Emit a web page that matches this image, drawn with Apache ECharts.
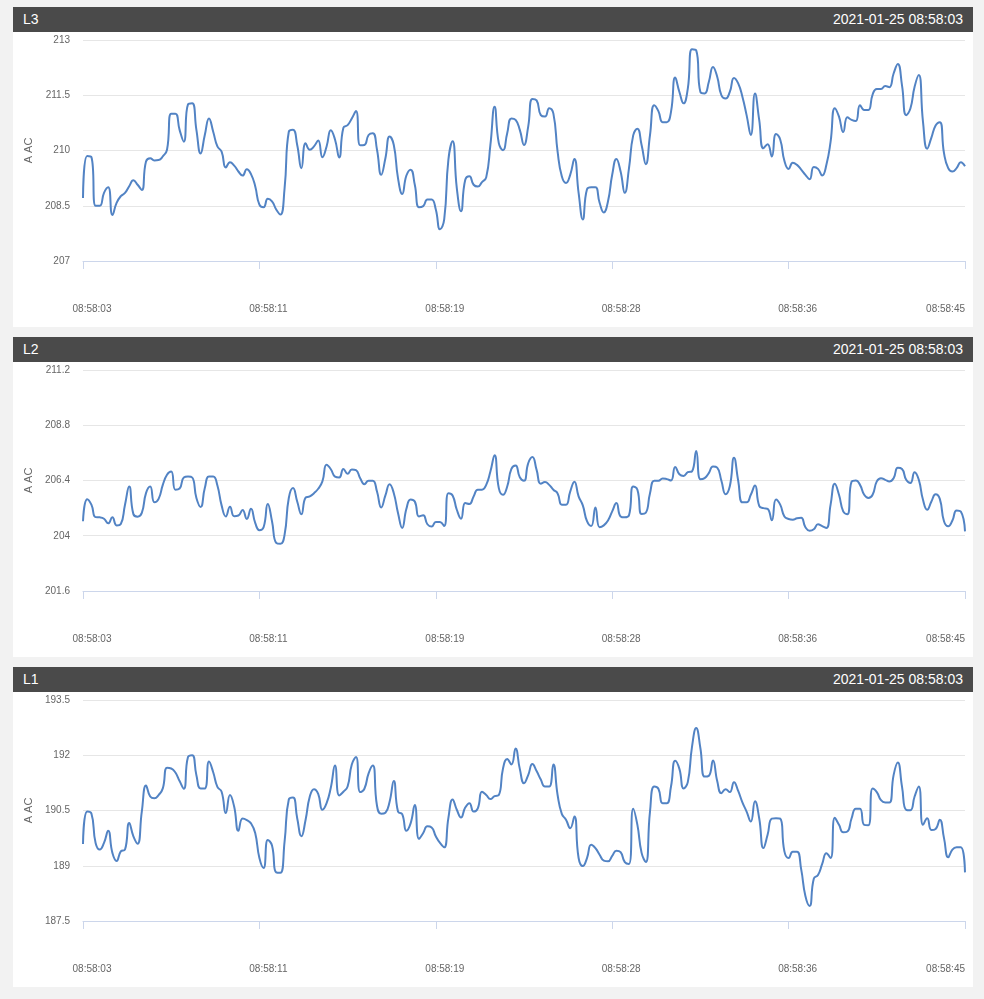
<!DOCTYPE html>
<html>
<head>
<meta charset="utf-8">
<title>L1 L2 L3</title>
<script src="https://cdn.jsdelivr.net/npm/echarts@6/dist/echarts.min.js"></script>
<style>
  body { margin: 0; background: #f2f2f2; font-family: "Liberation Sans", Arial, sans-serif; }
  .panel { position: absolute; left: 13px; width: 960px; }
  .head { height: 25px; line-height: 25px; background: #4a4a4a; color: #fff; font-size: 14px; padding: 0 10px; }
  .head .time { float: right; }
  .chart { width: 960px; height: 295px; background: #fff; }
</style>
</head>
<body>
<div class="panel" style="top:7px">
  <div class="head">L3<span class="time">2021-01-25 08:58:03</span></div>
  <div class="chart" id="chartL3"></div>
</div>
<div class="panel" style="top:337px">
  <div class="head">L2<span class="time">2021-01-25 08:58:03</span></div>
  <div class="chart" id="chartL2"></div>
</div>
<div class="panel" style="top:667px">
  <div class="head">L1<span class="time">2021-01-25 08:58:03</span></div>
  <div class="chart" id="chartL1"></div>
</div>
<script>
// sample times: one point every 200 ms starting at 08:58:03
const startTime = '08:58:03';
const stepMs = 200;
const labelEvery = 42; // one x label every 42 samples

const l3Values = [
  208.71, 209.85, 209.82, 208.50, 208.50, 208.85, 209.00, 208.25, 208.58, 208.76,
  208.85, 209.03, 209.19, 209.07, 208.93, 209.70, 209.79, 209.73, 209.74, 209.84,
  210.02, 211.00, 211.00, 210.56, 210.24, 211.25, 211.28, 210.56, 209.92, 210.42,
  210.87, 210.51, 210.11, 209.97, 209.54, 209.68, 209.59, 209.43, 209.32, 209.49,
  209.36, 209.03, 208.53, 208.46, 208.69, 208.62, 208.40, 208.26, 208.98, 210.51,
  210.56, 210.15, 209.52, 210.20, 210.02, 210.11, 210.27, 209.82, 210.11, 210.55,
  210.30, 209.81, 210.62, 210.69, 210.87, 211.07, 210.14, 210.15, 210.42, 210.47,
  210.02, 209.34, 209.79, 210.38, 210.15, 209.25, 208.82, 209.32, 209.48, 209.07,
  208.46, 208.49, 208.67, 208.67, 208.40, 207.86, 208.13, 209.75, 210.25, 208.98,
  208.35, 209.20, 209.30, 209.07, 209.02, 209.14, 209.27, 210.15, 211.19, 210.20,
  210.01, 210.47, 210.87, 210.83, 210.56, 210.15, 210.65, 211.40, 211.36, 210.96,
  210.92, 211.15, 211.00, 209.97, 209.30, 209.12, 209.34, 209.77, 208.85, 208.13,
  208.95, 209.00, 209.00, 208.58, 208.32, 208.62, 209.34, 209.77, 209.43, 208.85,
  209.52, 210.41, 210.59, 210.15, 209.63, 210.42, 211.23, 211.07, 210.77, 210.77,
  211.05, 211.98, 211.59, 211.28, 211.68, 212.75, 212.72, 211.59, 211.55, 211.86,
  212.27, 212.00, 211.50, 211.41, 211.59, 211.97, 211.82, 211.46, 210.96, 210.42,
  211.55, 210.83, 210.06, 210.17, 209.84, 210.45, 210.30, 209.72, 209.50, 209.67,
  209.61, 209.48, 209.34, 209.22, 209.55, 209.50, 209.32, 209.61, 210.24, 211.15,
  210.92, 210.50, 210.90, 210.83, 210.80, 211.23, 211.10, 211.10, 211.52, 211.67,
  211.67, 211.75, 211.72, 212.09, 212.35, 211.77, 210.96, 211.14, 211.73, 212.05,
  210.78, 210.05, 210.35, 210.68, 210.77, 209.93, 209.52, 209.43, 209.52, 209.68,
  209.57
];

const l2Values = [
  204.63, 205.59, 205.35, 204.81, 204.80, 204.74, 204.54, 204.80, 204.45, 204.51,
  205.35, 206.14, 204.94, 204.83, 204.99, 205.85, 206.14, 205.45, 205.60, 206.21,
  206.65, 206.79, 206.00, 206.05, 206.53, 206.57, 206.53, 205.64, 205.25, 206.07,
  206.57, 206.57, 206.18, 205.32, 204.84, 205.26, 204.85, 204.88, 205.12, 204.73,
  205.17, 204.56, 204.24, 204.37, 205.38, 204.63, 203.69, 203.65, 204.05, 205.64,
  206.07, 205.49, 204.93, 205.66, 205.71, 205.85, 206.04, 206.36, 207.08, 206.89,
  206.57, 206.53, 206.90, 206.69, 206.88, 206.85, 206.50, 206.24, 206.39, 206.39,
  205.92, 205.23, 205.75, 206.24, 205.85, 204.99, 204.34, 205.17, 205.58, 205.49,
  204.84, 204.89, 204.50, 204.40, 204.60, 204.60, 204.42, 205.85, 205.75, 205.13,
  204.74, 205.42, 205.38, 205.71, 206.00, 206.00, 206.21, 206.79, 207.50, 206.07,
  205.78, 206.14, 206.90, 207.05, 206.54, 206.39, 207.15, 207.42, 206.86, 206.26,
  206.33, 206.21, 206.00, 205.84, 205.35, 205.35, 205.92, 206.35, 205.71, 205.32,
  204.63, 204.42, 205.23, 204.37, 204.45, 204.66, 205.06, 205.42, 204.84, 204.80,
  204.89, 206.14, 206.00, 204.95, 205.00, 205.85, 206.39, 206.39, 206.49, 206.46,
  206.40, 206.99, 206.67, 206.60, 206.76, 206.80, 207.68, 206.45, 206.50, 206.72,
  207.01, 206.96, 206.39, 205.80, 206.15, 207.39, 206.39, 205.45, 205.45, 205.78,
  206.18, 205.30, 205.20, 205.17, 204.67, 205.57, 205.35, 204.84, 204.73, 204.70,
  204.76, 204.78, 204.37, 204.22, 204.28, 204.50, 204.42, 204.34, 205.35, 206.26,
  205.78, 205.06, 204.93, 206.35, 206.40, 206.21, 205.78, 205.64, 205.78, 206.36,
  206.50, 206.43, 206.36, 206.50, 206.95, 206.90, 206.43, 206.29, 206.76, 206.43,
  205.56, 205.13, 205.49, 205.80, 205.60, 204.63, 204.41, 204.66, 205.10, 205.05,
  204.19
];

const l1Values = [
  189.59, 190.47, 190.42, 189.62, 189.44, 189.62, 189.95, 189.35, 189.13, 189.39,
  189.44, 190.16, 189.80, 189.60, 190.47, 191.18, 190.88, 190.83, 190.92, 191.10,
  191.66, 191.64, 191.53, 191.30, 191.09, 191.95, 192.00, 191.46, 191.10, 191.10,
  191.83, 191.54, 191.14, 191.01, 190.43, 190.92, 190.60, 189.95, 190.28, 190.24,
  190.15, 189.89, 189.21, 188.94, 189.70, 189.55, 188.82, 188.81, 189.66, 190.80,
  190.85, 190.29, 189.80, 190.25, 190.88, 191.08, 190.95, 190.52, 190.70, 191.12,
  191.72, 190.91, 191.01, 191.15, 191.75, 191.95, 191.00, 191.09, 191.51, 191.72,
  190.63, 190.41, 190.44, 190.74, 191.30, 190.47, 190.40, 189.95, 190.15, 190.65,
  189.73, 189.89, 190.07, 190.04, 189.80, 189.62, 189.50, 190.30, 190.80, 190.52,
  190.31, 190.58, 190.70, 190.47, 190.56, 191.01, 190.92, 190.81, 190.89, 190.92,
  191.64, 191.90, 191.75, 192.18, 191.63, 191.24, 191.46, 191.76, 191.57, 191.34,
  191.15, 191.15, 191.75, 190.92, 190.41, 190.25, 190.02, 190.34, 189.21, 188.99,
  189.21, 189.57, 189.48, 189.30, 189.14, 189.12, 189.27, 189.41, 189.37, 189.10,
  189.05, 190.55, 190.11, 189.35, 189.10, 190.47, 191.15, 191.09, 190.70, 190.70,
  191.15, 191.85, 191.63, 191.10, 191.27, 192.23, 192.74, 192.19, 191.42, 191.44,
  191.86, 191.30, 190.97, 191.08, 191.00, 191.27, 191.03, 190.72, 190.47, 190.20,
  190.75, 190.29, 189.48, 189.84, 190.28, 190.29, 190.28, 189.39, 189.21, 189.38,
  189.38, 188.90, 188.18, 187.91, 188.65, 188.75, 189.05, 189.34, 189.21, 190.30,
  190.11, 189.91, 189.93, 190.29, 190.55, 190.55, 190.11, 190.10, 191.10, 191.00,
  190.78, 190.72, 190.72, 191.46, 191.80, 191.15, 190.52, 190.51, 190.88, 191.15,
  190.11, 190.29, 189.97, 190.00, 190.25, 189.75, 189.23, 189.44, 189.50, 189.50,
  188.82
];

function pad(n) {
  return n < 10 ? '0' + n : '' + n;
}

// x categories: HH:MM:SS of every sample
function buildTimes(count) {
  const parts = startTime.split(':').map(Number);
  const baseMs = (parts[0] * 3600 + parts[1] * 60 + parts[2]) * 1000;
  const out = [];
  for (let i = 0; i < count; i++) {
    const sec = Math.floor((baseMs + i * stepMs) / 1000);
    out.push(pad(Math.floor(sec / 3600)) + ':' + pad(Math.floor(sec / 60) % 60) + ':' + pad(sec % 60));
  }
  return out;
}

const times = buildTimes(l3Values.length);

function drawPanel(id, values, yMin, yMax, yStep) {
  const chart = echarts.init(document.getElementById(id));
  chart.setOption({
    animation: false,
    grid: { left: 70, right: 8, top: 8, bottom: 66, containLabel: false, outerBoundsMode: 'none' },
    xAxis: {
      type: 'category',
      boundaryGap: false,
      data: times,
      axisLine: { lineStyle: { color: '#ccd6eb' } },
      axisTick: { interval: labelEvery - 1, length: 8, lineStyle: { color: '#ccd6eb' } },
      axisLabel: {
        interval: labelEvery - 1,
        margin: 43,
        color: '#666',
        fontSize: 10,
        padding: [0, 0, 0, 18],
        alignMaxLabel: 'right'
      },
      splitLine: { show: false }
    },
    yAxis: {
      type: 'value',
      min: yMin,
      max: yMax,
      interval: yStep,
      name: 'A AC',
      nameLocation: 'middle',
      nameGap: 40,
      nameTextStyle: { color: '#666', fontSize: 11 },
      axisLine: { show: false },
      axisTick: { show: false },
      axisLabel: { color: '#666', fontSize: 10, margin: 13 },
      splitLine: { lineStyle: { color: '#e6e6e6' } }
    },
    series: [{
      type: 'line',
      data: values,
      smooth: true,
      showSymbol: false,
      lineStyle: { width: 2, color: '#5283c4' }
    }]
  });
}

drawPanel('chartL3', l3Values, 207, 213, 1.5);
drawPanel('chartL2', l2Values, 201.6, 211.2, 2.4);
drawPanel('chartL1', l1Values, 187.5, 193.5, 1.5);
</script>
</body>
</html>
